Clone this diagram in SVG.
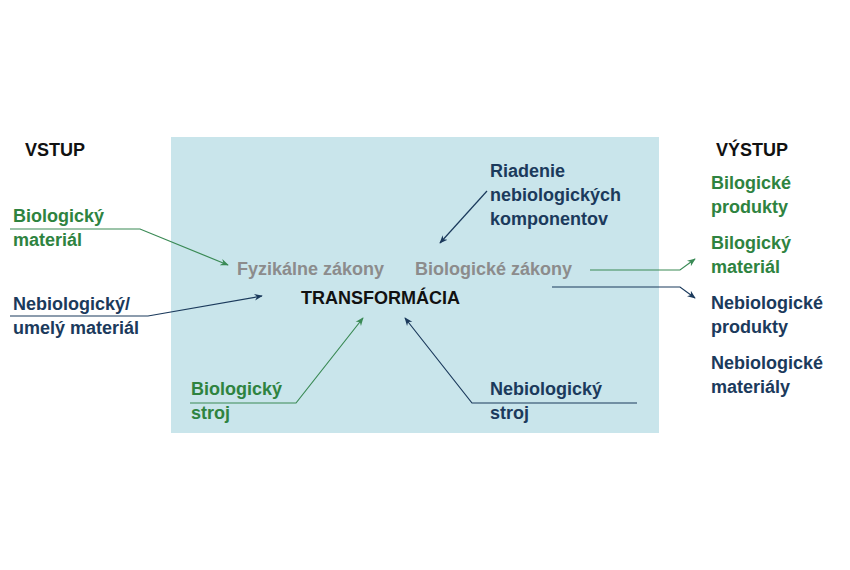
<svg xmlns="http://www.w3.org/2000/svg" width="850" height="570" viewBox="0 0 850 570">
<style>
text{font-family:"Liberation Sans",Arial,sans-serif;font-weight:bold;font-size:18px}
.g{fill:#2e8340}.n{fill:#1b3a5c}.gr{fill:#8c8c8c}.k{fill:#111}
.lg{stroke:#3a8a55;fill:none;stroke-width:1.2}.ln{stroke:#1b3a5c;fill:none;stroke-width:1.2}
</style>
<defs>
<marker id="ag" viewBox="0 0 10 10" refX="9" refY="5" markerWidth="7" markerHeight="7" orient="auto"><path d="M0,1 L10,5 L0,9 L3,5z" fill="#3a8a55"/></marker>
<marker id="an" viewBox="0 0 10 10" refX="9" refY="5" markerWidth="7" markerHeight="7" orient="auto"><path d="M0,1 L10,5 L0,9 L3,5z" fill="#1b3a5c"/></marker>
</defs>
<rect x="171" y="137" width="488" height="296" fill="#c9e5eb"/>
<g id="connectors">
<polyline class="lg" points="10,229 140,229 228,265" marker-end="url(#ag)"/>
<polyline class="ln" points="10,316 148,316 262,296" marker-end="url(#an)"/>
<polyline class="lg" points="190,403 296,403 363,318" marker-end="url(#ag)"/>
<polyline class="ln" points="637,403 472,403 405,318" marker-end="url(#an)"/>
<polyline class="ln" points="487,191 440,243" marker-end="url(#an)"/>
<polyline class="lg" points="590,270 680,270 695,259" marker-end="url(#ag)"/>
<polyline class="ln" points="552,287 680,287 695,298" marker-end="url(#an)"/>
</g>
<g id="vstup"><text x="25" y="156" class="k">VSTUP</text></g>
<g id="vystup"><text x="716" y="156" class="k">VÝSTUP</text></g>
<g id="bio-material"><text x="13" y="222" class="g">Biologický</text><text x="13" y="246" class="g">materiál</text></g>
<g id="nebio-material"><text x="13" y="310" class="n">Nebiologický/</text><text x="13" y="334" class="n">umelý materiál</text></g>
<g id="bio-stroj"><text x="191" y="395" class="g">Biologický</text><text x="191" y="419" class="g">stroj</text></g>
<g id="nebio-stroj"><text x="490" y="395" class="n">Nebiologický</text><text x="490" y="419" class="n">stroj</text></g>
<g id="riadenie"><text x="490" y="177" class="n">Riadenie</text><text x="490" y="201" class="n">nebiologických</text><text x="490" y="225" class="n">komponentov</text></g>
<g id="center"><text x="237" y="275" class="gr">Fyzikálne zákony</text><text x="415" y="275" class="gr">Biologické zákony</text><text x="301" y="304" class="k">TRANSFORMÁCIA</text></g>
<g id="out1"><text x="711" y="189" class="g">Bilogické</text><text x="711" y="213" class="g">produkty</text></g>
<g id="out2"><text x="711" y="249" class="g">Bilogický</text><text x="711" y="273" class="g">materiál</text></g>
<g id="out3"><text x="711" y="309" class="n">Nebiologické</text><text x="711" y="333" class="n">produkty</text></g>
<g id="out4"><text x="711" y="369" class="n">Nebiologické</text><text x="711" y="393" class="n">materiály</text></g>
</svg>
